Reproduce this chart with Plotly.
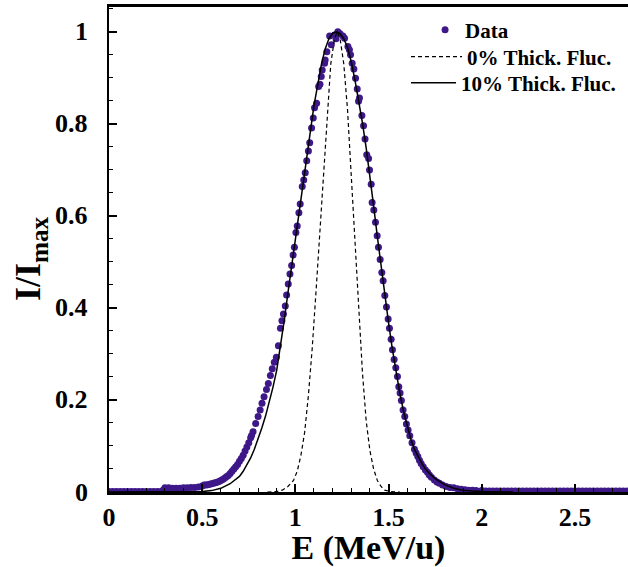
import plotly.graph_objects as go

# ---------------- data ----------------
data_x = [0.00, 0.02, 0.04, 0.06, 0.08, 0.10, 0.12, 0.14, 0.16, 0.18, 0.20, 0.22, 0.24, 0.26, 0.28,
          0.29, 0.30, 0.32, 0.34, 0.36, 0.38, 0.40, 0.42, 0.44, 0.46, 0.48, 0.50,
          0.51, 0.52, 0.53, 0.54, 0.55, 0.56, 0.57, 0.58, 0.59, 0.60, 0.61, 0.62, 0.63, 0.64,
          0.65, 0.66, 0.67, 0.68, 0.69, 0.70, 0.71, 0.72, 0.73, 0.74, 0.75, 0.76, 0.765,
          0.773, 0.787, 0.800, 0.811, 0.821, 0.832, 0.845, 0.855, 0.866, 0.876, 0.887, 0.898,
          0.909, 0.920, 0.928, 0.936, 0.946, 0.953, 0.962, 0.971, 0.980, 0.988, 0.995, 1.003,
          1.010, 1.019, 1.026, 1.037, 1.045, 1.053, 1.061, 1.070, 1.077, 1.087, 1.096, 1.103,
          1.114, 1.125, 1.132, 1.139, 1.144, 1.157, 1.160, 1.169, 1.184, 1.193, 1.210, 1.218,
          1.228, 1.240, 1.255, 1.264, 1.282, 1.290, 1.296, 1.305, 1.314, 1.323, 1.332, 1.339,
          1.344, 1.357, 1.366, 1.374, 1.383, 1.393, 1.398, 1.407, 1.412, 1.421, 1.430, 1.439,
          1.446, 1.455, 1.464, 1.471, 1.480, 1.489, 1.498, 1.505, 1.514, 1.521, 1.530, 1.539,
          1.548, 1.555, 1.562, 1.569, 1.578, 1.587, 1.596, 1.605, 1.614, 1.626, 1.639, 1.648,
          1.657, 1.666, 1.675, 1.686, 1.698, 1.709, 1.719, 1.730, 1.746, 1.760, 1.773, 1.790,
          1.809, 1.830, 1.850, 1.870, 1.890, 1.910, 1.930, 1.950, 1.970, 2.000,
          2.02, 2.04, 2.06, 2.08, 2.10, 2.12, 2.14, 2.16, 2.18, 2.20, 2.22, 2.24, 2.26, 2.28,
          2.30, 2.32, 2.34, 2.36, 2.38, 2.40, 2.42, 2.44, 2.46, 2.48, 2.50, 2.52, 2.54, 2.56,
          2.58, 2.60, 2.62, 2.64, 2.66, 2.68, 2.70, 2.72, 2.74, 2.76, 2.78]
data_y = [0.001, 0.001, 0.001, 0.001, 0.001, 0.001, 0.001, 0.001, 0.001, 0.001, 0.001, 0.001, 0.001, 0.001, 0.001,
          0.004, 0.009, 0.009, 0.008, 0.008, 0.008, 0.009, 0.009, 0.010, 0.010, 0.011, 0.013,
          0.015, 0.015, 0.016, 0.017, 0.018, 0.019, 0.020, 0.021, 0.023, 0.025, 0.027, 0.030, 0.033, 0.036,
          0.040, 0.045, 0.050, 0.055, 0.060, 0.067, 0.073, 0.080, 0.089, 0.098, 0.107, 0.118, 0.123,
          0.131, 0.149, 0.164, 0.178, 0.193, 0.207, 0.223, 0.236, 0.253, 0.268, 0.282, 0.293,
          0.318, 0.356, 0.372, 0.387, 0.404, 0.428, 0.452, 0.474, 0.492, 0.515, 0.532, 0.564,
          0.578, 0.607, 0.626, 0.664, 0.678, 0.694, 0.720, 0.741, 0.759, 0.791, 0.813, 0.835,
          0.845, 0.881, 0.886, 0.903, 0.917, 0.932, 0.939, 0.957, 0.991, 0.972, 0.993, 0.985,
          1.000, 0.996, 0.991, 0.986, 0.968, 0.961, 0.950, 0.932, 0.919, 0.899, 0.876, 0.849,
          0.856, 0.818, 0.796, 0.767, 0.733, 0.725, 0.700, 0.669, 0.629, 0.613, 0.586, 0.557,
          0.532, 0.505, 0.477, 0.459, 0.427, 0.402, 0.376, 0.356, 0.332, 0.309, 0.288, 0.270,
          0.251, 0.229, 0.215, 0.199, 0.178, 0.164, 0.148, 0.135, 0.122, 0.107, 0.093, 0.085,
          0.077, 0.069, 0.062, 0.055, 0.048, 0.043, 0.037, 0.032, 0.026, 0.022, 0.019, 0.015,
          0.012, 0.010, 0.009, 0.007, 0.006, 0.005, 0.004, 0.004, 0.003, 0.003,
          0.002, 0.002, 0.002, 0.002, 0.002, 0.002, 0.002, 0.002, 0.002, 0.002, 0.002, 0.002, 0.002, 0.002,
          0.002, 0.002, 0.002, 0.002, 0.002, 0.002, 0.002, 0.002, 0.002, 0.002, 0.002, 0.002, 0.002, 0.002,
          0.002, 0.002, 0.002, 0.002, 0.002, 0.002, 0.002, 0.002, 0.002, 0.002, 0.002]

fluc0_x = [0.85, 0.90, 0.93, 0.96, 0.99, 1.01, 1.03, 1.05, 1.07, 1.09, 1.11, 1.13, 1.15, 1.17,
           1.19, 1.21, 1.225, 1.24, 1.26, 1.28, 1.30, 1.32, 1.34, 1.36, 1.38, 1.40, 1.42, 1.44,
           1.46, 1.48, 1.51, 1.56]
fluc0_y = [0.000, 0.001, 0.004, 0.012, 0.025, 0.045, 0.080, 0.130, 0.210, 0.310, 0.430, 0.560, 0.690, 0.820,
           0.930, 0.985, 1.000, 0.985, 0.930, 0.830, 0.690, 0.540, 0.400, 0.260, 0.155, 0.090, 0.050, 0.025,
           0.012, 0.004, 0.001, 0.000]

fluc10_x = [0.00, 0.45, 0.50, 0.55, 0.60, 0.65, 0.70, 0.72, 0.74, 0.76, 0.78, 0.80, 0.82, 0.84,
            0.86, 0.88, 0.90, 0.92, 0.94, 0.96, 0.98, 1.00, 1.02, 1.04, 1.06, 1.08, 1.10, 1.12,
            1.14, 1.16, 1.18, 1.20, 1.22, 1.24, 1.26, 1.28, 1.30, 1.32, 1.34, 1.36, 1.38, 1.40,
            1.42, 1.44, 1.46, 1.48, 1.50, 1.52, 1.54, 1.56, 1.58, 1.60, 1.62, 1.64, 1.66, 1.68,
            1.70, 1.72, 1.75, 1.80, 1.85, 1.90, 1.95, 2.00, 2.17]
fluc10_y = [0.000, 0.000, 0.001, 0.003, 0.008, 0.018, 0.034, 0.045, 0.058, 0.074, 0.093, 0.115, 0.139, 0.165,
            0.195, 0.228, 0.265, 0.315, 0.372, 0.432, 0.492, 0.550, 0.612, 0.670, 0.722, 0.790, 0.840, 0.885,
            0.930, 0.963, 0.985, 0.997, 1.000, 0.996, 0.985, 0.966, 0.935, 0.895, 0.850, 0.802, 0.748, 0.690,
            0.622, 0.555, 0.490, 0.428, 0.368, 0.312, 0.262, 0.216, 0.176, 0.142, 0.114, 0.092, 0.075, 0.061,
            0.049, 0.040, 0.029, 0.016, 0.008, 0.004, 0.002, 0.001, 0.000]

x_ticks = [0, 0.5, 1, 1.5, 2, 2.5]
x_tick_labels = ["0", "0.5", "1", "1.5", "2", "2.5"]
y_ticks = [0, 0.2, 0.4, 0.6, 0.8, 1]
y_tick_labels = ["0", "0.2", "0.4", "0.6", "0.8", "1"]
Y_RANGE = [0, 1.054]

FONT = "Liberation Serif"
PURPLE = "#3e1889"

fig = go.Figure()
fig.add_trace(go.Scatter(x=data_x, y=data_y, mode="markers", name="Data", legend="legend",
                         marker=dict(size=7, color=PURPLE)))
fig.add_trace(go.Scatter(x=fluc0_x, y=fluc0_y, mode="lines", name="0% Thick. Fluc.", legend="legend2",
                         line=dict(color="black", width=1.2, dash="4px,3px")))
fig.add_trace(go.Scatter(x=fluc10_x, y=fluc10_y, mode="lines", name="10% Thick. Fluc.", legend="legend3",
                         line=dict(color="black", width=1.5)))

tick_font = dict(family=FONT, size=26, color="black", weight="bold")
leg_font = dict(family=FONT, size=21, color="black", weight="bold")


def leg(xp, yp, iw):
    return dict(x=xp, y=yp, xanchor="left", yanchor="middle", bgcolor="rgba(0,0,0,0)",
                borderwidth=0, itemwidth=iw, font=leg_font)


# y tick labels: placed on the y scale (yref="y"), set off from the axis as in the reference
y_label_annotations = [dict(text="<b>%s</b>" % lab, x=-0.036, y=val, xref="paper", yref="y",
                            xanchor="right", yanchor="middle", showarrow=False,
                            font=dict(family=FONT, size=26, color="black"))
                       for val, lab in zip(y_ticks, y_tick_labels)]

fig.update_layout(
    width=628, height=567,
    margin=dict(l=109, r=0, t=7, b=75),
    paper_bgcolor="white", plot_bgcolor="white",
    showlegend=True,
    legend=leg(0.609, 0.9526, 30),
    legend2=leg(0.5723, 0.8969, 51),
    legend3=leg(0.5723, 0.8433, 45),
    xaxis=dict(range=[0, 2.785], tickmode="array", tickvals=x_ticks, ticktext=x_tick_labels,
               showgrid=False, zeroline=False, showline=True, linecolor="black",
               linewidth=2.5, mirror=True,
               ticks="inside", tickcolor="black", tickwidth=1.5, ticklen=8, tickfont=tick_font,
               minor=dict(dtick=0.1, ticks="inside", ticklen=4, tickwidth=1.2, tickcolor="black"),
               title=dict(text="<b>E (MeV/u)</b>", font=dict(family=FONT, size=34, color="black"),
                          standoff=4)),
    yaxis=dict(range=Y_RANGE, tickmode="array", tickvals=y_ticks, showticklabels=False,
               showgrid=False, zeroline=False, showline=True, linecolor="black", linewidth=2,
               ticks="inside", tickcolor="black", tickwidth=1.5, ticklen=8,
               minor=dict(dtick=0.05, ticks="inside", ticklen=4, tickwidth=1.2, tickcolor="black")),
    annotations=y_label_annotations + [
        dict(text="<b>I/I<sub>max</sub></b>", textangle=-90, showarrow=False,
             xref="paper", yref="paper", x=-0.1503, y=0.4825,
             xanchor="center", yanchor="middle",
             font=dict(family=FONT, size=36, color="black"))],
)

fig.write_html("out.html")
